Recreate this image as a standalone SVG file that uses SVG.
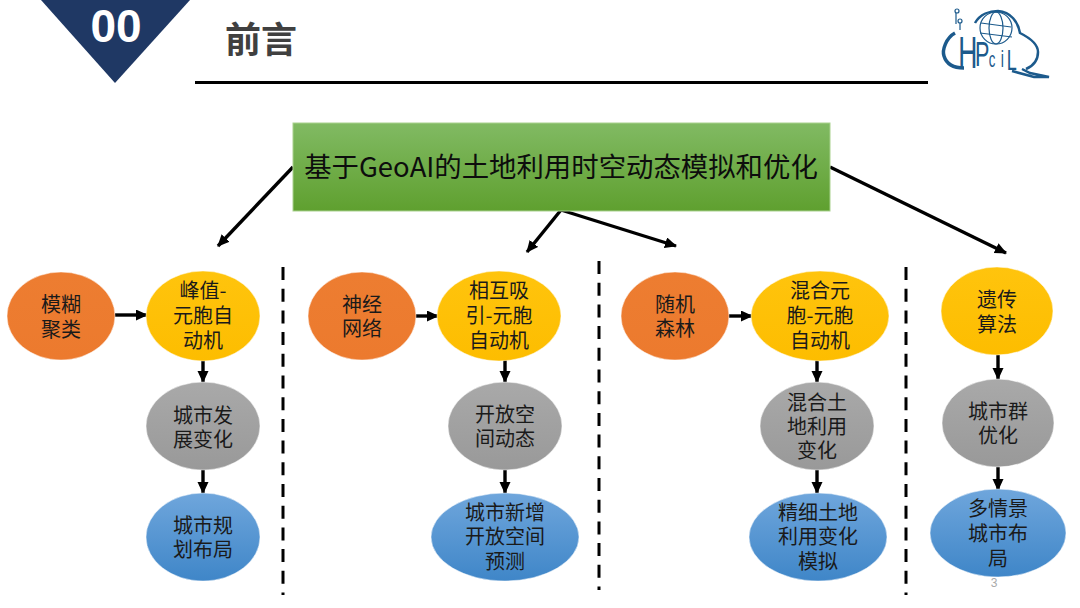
<svg xmlns="http://www.w3.org/2000/svg" width="1080" height="608" viewBox="0 0 1080 608">
<style>
text{font-family:"Noto Sans CJK SC","Liberation Sans",sans-serif;}
.l{font-size:20px;fill:#1a1a1a;text-anchor:middle;}
.c{stroke:#000;stroke-width:3.4;fill:none;marker-end:url(#a);}
.d{stroke:#000;stroke-width:3;stroke-dasharray:13 8.7;fill:none;}
.e{stroke:#fff;stroke-opacity:.5;stroke-width:1;}
.or{fill:url(#go);}.ye{fill:url(#gy);}.gr{fill:url(#gg);}.bl{fill:url(#gb);}
.logo{fill:none;stroke:#1c5a8c;}
.lt{font-family:"Liberation Sans",sans-serif;fill:#1c5a8c;}
</style>
<defs>
<marker id="a" markerUnits="userSpaceOnUse" markerWidth="13" markerHeight="12" refX="11" refY="5.5" orient="auto"><path d="M0 0L12 5.5L0 11Z" fill="#000"/></marker>
<linearGradient id="gr" x1="0" y1="0" x2="0" y2="1"><stop offset="0" stop-color="#81ba63"/><stop offset="1" stop-color="#5fa02f"/></linearGradient>
<linearGradient id="go" x1="0" y1="0" x2="0" y2="1"><stop offset="0" stop-color="#ed7d31"/><stop offset="1" stop-color="#ec7a2e"/></linearGradient>
<linearGradient id="gy" x1="0" y1="0" x2="0" y2="1"><stop offset="0" stop-color="#ffc40d"/><stop offset="1" stop-color="#fdbd00"/></linearGradient>
<linearGradient id="gg" x1="0" y1="0" x2="0" y2="1"><stop offset="0" stop-color="#a9a9a9"/><stop offset="1" stop-color="#999"/></linearGradient>
<linearGradient id="gb" x1="0" y1="0" x2="0" y2="1"><stop offset="0" stop-color="#6fa6dc"/><stop offset="1" stop-color="#3f86c8"/></linearGradient>
</defs>
<rect width="1080" height="608" fill="#fff"/>
<g id="header">
<path d="M41 0H190L115 83Z" fill="#1f3864"/>
<text x="116" y="42" font-size="46" font-weight="700" fill="#fff" text-anchor="middle" style="font-family:'Liberation Sans',sans-serif">00</text>
<text x="261" y="53" font-size="36" font-weight="700" fill="#404040" text-anchor="middle">前言</text>
<rect x="195" y="81" width="733" height="3" fill="#000"/>
</g>
<g id="logo">
<path class="logo" stroke-width="3.5" d="M955 33C946 38 942 50 944 56C947 66 956 68 964 68"/>
<path class="logo" stroke-width="2.5" d="M975 23C980 14 990 11 998 11C1011 12 1018 22 1020 33C1030 38 1038 44 1038 52C1038 60 1033 66 1026 69"/>
<circle class="logo" stroke-width="1.2" cx="996" cy="28" r="16"/>
<ellipse class="logo" stroke-width="1.2" cx="996" cy="28" rx="7" ry="16"/>
<path class="logo" stroke-width="1.2" d="M981 23L1011 27M980 33L1012 37"/>
<path class="logo" stroke-width="2.5" d="M1012 71L1034 77L1049 77L1030 73L1022 69"/>
<circle class="logo" stroke-width="1.2" cx="957" cy="11" r="2"/>
<circle class="logo" stroke-width="1.2" cx="960" cy="21" r="2"/>
<path class="logo" stroke-width="1.2" d="M956 13V24M960 23V30"/>
<text class="lt" transform="scale(.6 1)"><tspan x="1597" y="68" font-size="44">H</tspan><tspan x="1625" y="66" font-size="36">P</tspan><tspan x="1648" y="67" font-size="22">c</tspan><tspan x="1668" y="67" font-size="24">i</tspan><tspan x="1678" y="70" font-size="30">L</tspan></text>
</g>
<g id="connectors">
<path class="c" d="M293 167L218 246"/>
<path class="c" d="M561 210L527 252"/>
<path class="c" d="M561 210L676 246"/>
<path class="c" d="M830 167L1006 253"/>
<path class="c" d="M115 315H147"/>
<path class="c" d="M203 360V382"/>
<path class="c" d="M203 470V493"/>
<path class="c" d="M416 316H438"/>
<path class="c" d="M505 360V382"/>
<path class="c" d="M505 470V493"/>
<path class="c" d="M729 316H752"/>
<path class="c" d="M817 360V382"/>
<path class="c" d="M817 470V493"/>
<path class="c" d="M998 355V379"/>
<path class="c" d="M998 467V490"/>
<path class="d" d="M283 267V595"/>
<path class="d" d="M599 261V590"/>
<path class="d" d="M906 267V595"/>
</g>
<g id="title"><rect x="293" y="123" width="537" height="88" fill="url(#gr)" stroke="#a9d18e" stroke-width="1"/>
<text x="561" y="177" font-size="27.4" fill="#0d0d0d" text-anchor="middle">基于GeoAI的土地利用时空动态模拟和优化</text></g>
<g id="n1"><ellipse class="or e" cx="61" cy="316" rx="54" ry="44"/><text class="l"><tspan x="61" y="312">模糊</tspan><tspan x="61" y="337">聚类</tspan></text></g>
<g id="n2"><ellipse class="ye e" cx="203" cy="316" rx="57" ry="45"/><text class="l"><tspan x="203" y="298">峰值-</tspan><tspan x="203" y="323">元胞自</tspan><tspan x="203" y="348">动机</tspan></text></g>
<g id="n3"><ellipse class="gr e" cx="203" cy="426" rx="57" ry="44"/><text class="l"><tspan x="203" y="423">城市发</tspan><tspan x="203" y="447">展变化</tspan></text></g>
<g id="n4"><ellipse class="bl e" cx="203" cy="537" rx="57" ry="44"/><text class="l"><tspan x="203" y="533">城市规</tspan><tspan x="203" y="557">划布局</tspan></text></g>
<g id="n5"><ellipse class="or e" cx="362" cy="316" rx="54" ry="44"/><text class="l"><tspan x="362" y="312">神经</tspan><tspan x="362" y="336">网络</tspan></text></g>
<g id="n6"><ellipse class="ye e" cx="499" cy="316" rx="62" ry="45"/><text class="l"><tspan x="499" y="298">相互吸</tspan><tspan x="499" y="323">引-元胞</tspan><tspan x="499" y="348">自动机</tspan></text></g>
<g id="n7"><ellipse class="gr e" cx="505" cy="426" rx="57" ry="44"/><text class="l"><tspan x="505" y="422">开放空</tspan><tspan x="505" y="446">间动态</tspan></text></g>
<g id="n8"><ellipse class="bl e" cx="505" cy="537" rx="74" ry="44"/><text class="l"><tspan x="505" y="520">城市新增</tspan><tspan x="505" y="544">开放空间</tspan><tspan x="505" y="569">预测</tspan></text></g>
<g id="n9"><ellipse class="or e" cx="675" cy="316" rx="54" ry="44"/><text class="l"><tspan x="675" y="312">随机</tspan><tspan x="675" y="336">森林</tspan></text></g>
<g id="n10"><ellipse class="ye e" cx="820" cy="316" rx="69" ry="45"/><text class="l"><tspan x="820" y="298">混合元</tspan><tspan x="820" y="323">胞-元胞</tspan><tspan x="820" y="348">自动机</tspan></text></g>
<g id="n11"><ellipse class="gr e" cx="817" cy="426" rx="57" ry="44"/><text class="l"><tspan x="817" y="410">混合土</tspan><tspan x="817" y="434">地利用</tspan><tspan x="817" y="458">变化</tspan></text></g>
<g id="n12"><ellipse class="bl e" cx="818" cy="537" rx="69" ry="44"/><text class="l"><tspan x="818" y="520">精细土地</tspan><tspan x="818" y="544">利用变化</tspan><tspan x="818" y="569">模拟</tspan></text></g>
<g id="n13"><ellipse class="ye e" cx="997" cy="311" rx="56" ry="44"/><text class="l"><tspan x="997" y="307">遗传</tspan><tspan x="997" y="332">算法</tspan></text></g>
<g id="n14"><ellipse class="gr e" cx="998" cy="423" rx="56" ry="44"/><text class="l"><tspan x="998" y="419">城市群</tspan><tspan x="998" y="443">优化</tspan></text></g>
<g id="n15"><ellipse class="bl e" cx="998" cy="533" rx="68" ry="44"/><text class="l"><tspan x="998" y="516">多情景</tspan><tspan x="998" y="541">城市布</tspan><tspan x="998" y="566">局</tspan></text></g>
<text x="994" y="587" font-size="12" fill="#aaa" text-anchor="middle" style="font-family:'Liberation Sans',sans-serif">3</text>
</svg>
